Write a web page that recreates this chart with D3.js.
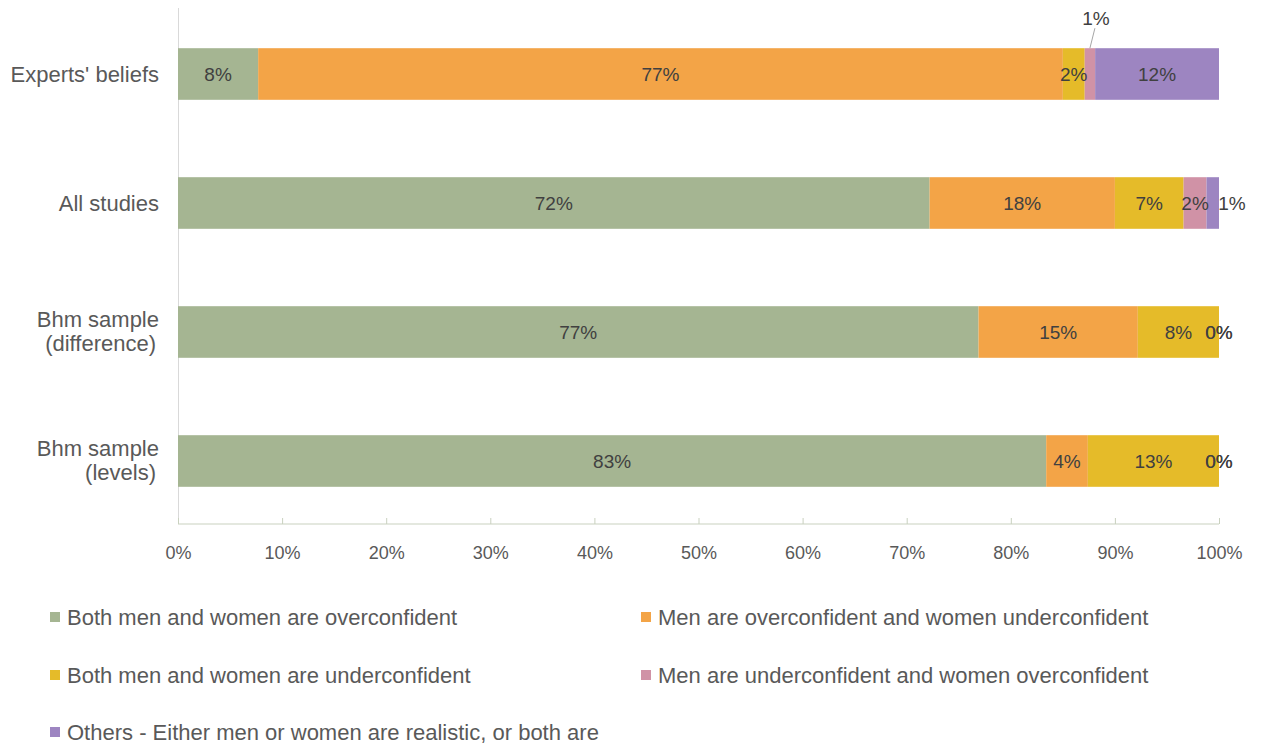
<!DOCTYPE html>
<html><head><meta charset="utf-8">
<script src="https://cdn.jsdelivr.net/npm/d3@7/dist/d3.min.js"></script>
<style>body{margin:0;background:#fff}svg{display:block;font-family:"Liberation Sans",Arial,sans-serif}</style>
</head><body><svg id="c" width="1262" height="744"></svg>
<script>
const categories = ["Experts' beliefs", "All studies", "Bhm sample (difference)", "Bhm sample (levels)"];
const seriesNames = ["Both men and women are overconfident", "Men are overconfident and women underconfident", "Both men and women are underconfident", "Men are underconfident and women overconfident", "Others - Either men or women are realistic, or both are"];
const bothOver = [7.7, 72.2, 76.9, 83.4];
const menOverWomenUnder = [77.3, 17.8, 15.3, 4.0];
const bothUnder = [2.1, 6.6, 7.8, 12.6];
const menUnderWomenOver = [1.0, 2.2, 0, 0];
const others = [11.9, 1.2, 0, 0];
const labels = [
  ["8%", "72%", "77%", "83%"],
  ["77%", "18%", "15%", "4%"],
  ["2%", "7%", "8%", "13%"],
  ["1%", "2%", "0%", "0%"],
  ["12%", "1%", "0%", "0%"]
];
const colors = ["#a5b592", "#f3a447", "#e5bb29", "#d092a6", "#9d85c1"];
const xTicks = [0,10,20,30,40,50,60,70,80,90,100];

const series = [bothOver, menOverWomenUnder, bothUnder, menUnderWomenOver, others];
const svg = d3.select("#c");
const x = d3.scaleLinear().domain([0,100]).range([178,1219]);
const y = d3.scaleBand().domain(categories).range([9.5,525.5]).paddingInner(0.6).paddingOuter(0.3);

const rows = categories.map((c,i)=>{const o={cat:c}; series.forEach((s,k)=>o["s"+k]=s[i]); return o;});
const stack = d3.stack().keys(series.map((s,k)=>"s"+k))(rows);

svg.append("line").attr("x1",178.5).attr("x2",178.5).attr("y1",8).attr("y2",524).attr("stroke","#d9d9d9");
const xa = svg.append("g").attr("transform","translate(0,524)")
  .call(d3.axisBottom(x).tickValues(xTicks).tickFormat(d=>d+"%").tickSize(-6).tickPadding(22));
xa.select(".domain").attr("stroke","#c9d1bf").attr("d","M178,0H1219");
xa.selectAll(".tick line").attr("stroke","#c9d1bf");
xa.selectAll(".tick text").attr("fill","#595959").attr("font-size","18px").attr("font-family","Liberation Sans, Arial, sans-serif");

const layers = svg.append("g").selectAll("g").data(stack).join("g").attr("fill",(d,k)=>colors[k]);
layers.selectAll("rect").data(d=>d).join("rect")
  .attr("x",d=>x(d[0])).attr("width",d=>x(d[1])-x(d[0]))
  .attr("y",d=>y(d.data.cat)).attr("height",y.bandwidth());

const lg = svg.append("g").attr("font-size","19px").attr("fill","#404040").attr("text-anchor","middle");
stack.forEach((layer,k)=>{
  layer.forEach((d,i)=>{
    let cx = (x(d[0])+x(d[1]))/2;
    let cy = y(d.data.cat)+y.bandwidth()/2;
    const t = labels[k][i];
    if (i===0 && k===3) {
      const top = y(d.data.cat);
      svg.append("line").attr("x1",cx).attr("y1",top).attr("x2",cx+5).attr("y2",top-20).attr("stroke","#a6a6a6");
      lg.append("text").attr("x",cx+6).attr("y",top-30).attr("dy","0.35em").text(t);
      return;
    }
    if (i===1 && k===4) cx = x(100)+13;
    lg.append("text").attr("x",cx).attr("y",cy).attr("dy","0.35em").text(t);
  });
});

const cg = svg.append("g").attr("font-size","22px").attr("fill","#595959").attr("text-anchor","end");
categories.forEach(c=>{
  const cy = y(c)+y.bandwidth()/2;
  const m = c.match(/^(Bhm sample) (\(.*\))$/);
  if (m) {
    const t = cg.append("text").attr("y",cy);
    t.append("tspan").attr("x",159).attr("dy","-0.22em").text(m[1]);
    t.append("tspan").attr("x",156).attr("dy","1.1em").text(m[2]);
  } else {
    cg.append("text").attr("x",159).attr("y",cy).attr("dy","0.35em").text(c);
  }
});

const legendPos = [[50,617],[641,617],[50,675],[641,675],[50,732]];
const leg = svg.append("g").attr("font-size","22px").attr("fill","#595959");
seriesNames.forEach((n,k)=>{
  const [lx,ly] = legendPos[k];
  leg.append("rect").attr("x",lx).attr("y",ly-5).attr("width",10).attr("height",10).attr("fill",colors[k]);
  leg.append("text").attr("x",lx+17).attr("y",ly).attr("dy","0.35em").text(n);
});
</script></body></html>
